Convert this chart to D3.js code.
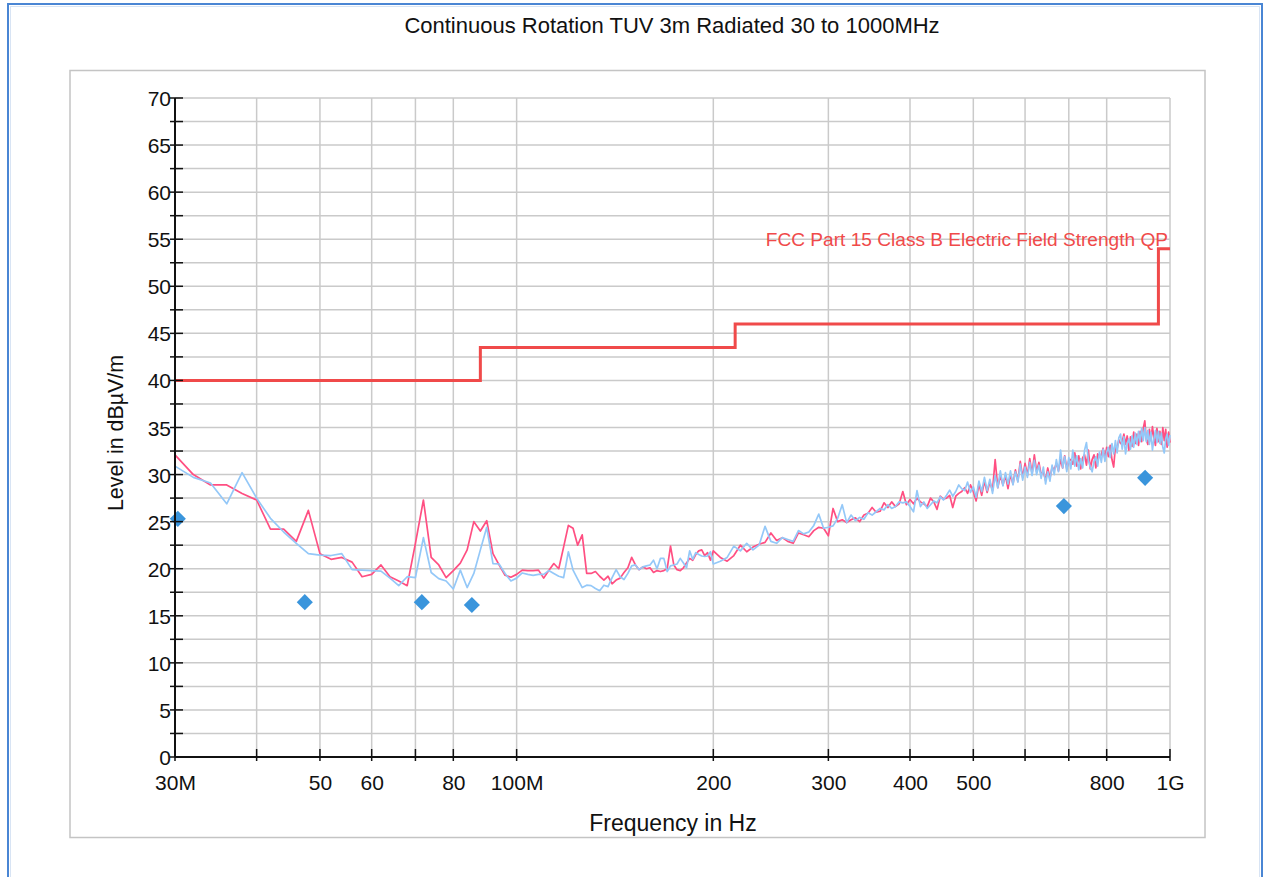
<!DOCTYPE html>
<html>
<head>
<meta charset="utf-8">
<script src="https://cdn.jsdelivr.net/npm/d3@7/dist/d3.min.js"></script>
<style>
  html, body { margin: 0; padding: 0; background: #ffffff; }
  svg { display: block; }
  text { font-family: "Liberation Sans", Arial, Helvetica, sans-serif; }
</style>
</head>
<body>
<svg id="chart" width="1265" height="877"></svg>
<script>
// ---------------- DATA ----------------
const chartTitle = "Continuous Rotation TUV 3m Radiated 30 to 1000MHz";
const xTitle = "Frequency in Hz";
const yTitle = "Level in dBµV/m";
const limitName = "FCC Part 15 Class B Electric Field Strength QP";

// sweep grid: low band 30..200 MHz every 2 MHz, high band 205..1000 MHz every 5 MHz
const lowStartMHz = 30, lowStepMHz = 2;
const highStartMHz = 205, highStepMHz = 5;

// red (pink) trace, dBµV/m
const redLow = [
  32.1, 30.0, 28.9, 28.9, 28.0, 27.3, 24.2, 24.2, 22.9, 26.2,
  21.6, 21.0, 21.2, 20.7, 19.15, 19.4, 20.4, 19.15, 18.7, 18.2,
  22.7, 27.3, 21.2, 20.4, 19.05, 19.8, 20.6, 22.0, 25.0, 24.0,
  25.1, 21.6, 20.4, 19.3, 19.1, 19.4, 19.85, 19.8, 19.8, 19.85,
  19.0, 19.8, 20.55, 20.0, 22.3, 24.6, 24.3, 22.5, 23.6, 19.5,
  19.5, 19.7, 19.2, 18.8, 19.2, 18.4, 18.8, 19.0, 19.6, 20.1,
  21.2, 20.4, 19.9, 20.2, 20.0, 20.1, 19.6, 19.8, 19.7, 19.8,
  20.0, 22.4, 20.4, 19.9, 19.8, 20.1, 20.6, 21.1, 20.9, 21.5,
  21.9, 22.0, 21.4, 21.7, 20.9, 21.9
];
const redHigh = [
  21.2, 20.8, 21.4, 22.5, 21.8, 22.3, 22.6, 22.8, 23.8, 23.0,
  23.3, 22.9, 22.7, 23.8, 23.6, 23.4, 24.05, 24.4, 24.3, 23.5,
  26.4, 25.0, 25.2, 24.9, 25.2, 25.4, 25.0, 25.7, 25.9, 26.5,
  26.0, 26.1, 27.0, 26.5, 27.1, 26.6, 26.9, 28.2, 26.8, 27.35,
  26.9, 27.5, 27.1, 26.9, 26.6, 27.5, 27.1, 26.3, 27.7, 27.4,
  27.5, 27.8, 26.5, 27.7, 28.0, 28.2, 28.6, 28.0, 28.9, 28.2,
  27.2, 29.0, 27.8, 29.3, 28.1, 29.2, 28.3, 31.6, 28.6, 29.9,
  28.9, 29.9, 28.5, 30.0, 29.0, 30.5, 29.3, 31.4, 29.7, 31.2,
  29.9, 31.7, 30.1, 32.1, 30.3, 31.3, 30.0, 30.3, 29.4, 30.7,
  29.6, 30.8, 30.5, 31.2, 30.4, 31.6, 30.7, 32.0, 30.6, 31.5,
  31.6, 31.1, 32.3, 30.9, 32.0, 30.6, 31.8, 32.1, 31.0, 32.6,
  30.6, 31.6, 32.1, 30.7, 32.2, 31.9, 32.1, 32.8, 31.7, 32.9,
  31.9, 33.1, 31.6, 30.8, 33.0, 32.8, 33.7, 33.3, 33.5, 34.3,
  33.2, 34.1, 32.6, 34.0, 33.0, 34.5, 33.3, 34.3, 33.1, 34.6,
  33.5, 34.9, 35.7, 33.7, 33.2, 34.8, 33.6, 35.1, 33.9, 33.1,
  34.9, 33.5, 34.6, 33.2, 35.0, 33.6, 34.8, 32.9, 34.5, 33.4
];

// light blue trace, dBµV/m
const blueLow = [
  30.9, 29.7, 29.1, 26.9, 30.2, 27.5, 25.35, 23.9, 22.7, 21.6,
  21.45, 21.4, 21.6, 19.9, 19.85, 19.8, 19.75, 19.0, 18.2, 19.15,
  19.05, 23.3, 19.6, 18.95, 18.7, 17.85, 19.85, 18.0, 19.5, 22.0,
  24.4, 20.55, 20.5, 19.5, 18.7, 19.0, 19.55, 19.4, 19.3, 19.4,
  19.4, 19.8, 19.5, 19.2, 19.05, 21.8, 19.85, 18.9, 18.0, 18.25,
  18.2, 17.9, 17.65, 18.25, 18.1, 19.05, 19.9, 19.15, 18.85, 19.5,
  20.3, 20.4, 19.9, 20.2, 20.3, 20.4, 20.9, 20.0, 21.1, 21.1,
  19.7, 20.3, 20.4, 20.5, 21.1, 20.6, 20.1, 21.9, 21.0, 21.7,
  21.5, 21.35, 21.3, 21.35, 21.8, 20.5
];
const blueHigh = [
  20.8, 21.2, 22.4, 21.9, 22.7, 22.0, 22.5, 24.5, 22.9, 22.7,
  23.3, 23.1, 22.9, 24.05, 23.7, 23.9, 24.6, 25.8, 24.3, 24.4,
  24.55, 25.35, 26.8, 24.9, 25.7, 25.1, 25.45, 25.25, 25.95, 25.7,
  26.05, 26.4, 26.25, 26.8, 26.4, 26.6, 27.1, 27.0, 27.1, 26.6,
  26.05, 28.3, 26.6, 27.1, 26.4, 26.8, 27.2, 27.0, 27.65, 27.3,
  27.8, 28.35, 27.7, 28.2, 28.9, 28.5, 28.3, 29.2, 28.1, 28.7,
  27.6, 29.3, 28.2, 29.7, 28.3, 29.5, 28.0, 29.9, 28.6, 30.4,
  28.8, 30.2, 29.0, 30.4, 28.9, 30.3, 29.2, 31.1, 29.4, 30.8,
  29.7, 31.3, 29.9, 31.5, 30.0, 31.0, 29.6, 30.8, 29.0, 30.3,
  29.3, 31.0, 30.0, 31.6, 30.3, 32.6, 30.7, 31.9, 30.3, 31.8,
  30.6, 32.6, 30.9, 32.0, 30.5, 31.7, 30.7, 32.6, 33.4, 31.5,
  30.8, 30.3, 31.4, 31.9, 30.9, 32.4, 31.3, 32.7, 31.4, 32.4,
  32.9, 31.8, 33.3, 32.2, 33.6, 32.3, 33.9, 34.3, 32.7, 34.0,
  32.2, 33.3, 33.8, 32.7, 34.1, 32.9, 34.4, 33.2, 34.6, 33.5,
  34.9, 33.6, 35.0, 33.5, 34.7, 33.2, 34.5, 32.6, 33.8, 34.7,
  33.4, 34.6, 33.3, 34.4, 32.9, 32.3, 33.8, 34.3, 33.1, 34.2
];

// final measurement points (diamonds)
const markerFreqMHz = [30.3, 47.4, 71.6, 85.4, 688, 916];
const markerLevel   = [25.3, 16.45, 16.45, 16.15, 26.65, 29.65];

// limit line (step after)
const limitFreqMHz = [30, 88, 216, 960, 1000];
const limitLevel   = [40, 43.5, 46, 54, 54];

// axes
const xGridMHz = [30, 40, 50, 60, 70, 80, 100, 200, 300, 400, 500, 600, 700, 800, 1000];
const xTickLabels = {30: "30M", 50: "50", 60: "60", 80: "80", 100: "100M", 200: "200",
                     300: "300", 400: "400", 500: "500", 800: "800", 1000: "1G"};
const yMajorTicks = [0, 5, 10, 15, 20, 25, 30, 35, 40, 45, 50, 55, 60, 65, 70];
const yMinorTicks = [2.5, 7.5, 12.5, 17.5, 22.5, 27.5, 32.5, 37.5, 42.5, 47.5, 52.5, 57.5, 62.5, 67.5];

// ---------------- BUILD SERIES ----------------
function buildSeries(low, high) {
  const pts = [];
  low.forEach((v, i) => pts.push({f: (lowStartMHz + i * lowStepMHz) * 1e6, v}));
  high.forEach((v, i) => pts.push({f: (highStartMHz + i * highStepMHz) * 1e6, v}));
  return pts;
}
const redSeries = buildSeries(redLow, redHigh);
const blueSeries = buildSeries(blueLow, blueHigh);

// ---------------- DRAW ----------------
const svg = d3.select("#chart");
const plotL = 175, plotR = 1170, plotT = 98, plotB = 757;

const x = d3.scaleLog().domain([30e6, 1e9]).range([plotL, plotR]);
const y = d3.scaleLinear().domain([0, 70]).range([plotB, plotT]);

// page frame
svg.append("rect").attr("x", 8).attr("y", 4).attr("width", 1254).attr("height", 900)
  .attr("fill", "none").attr("stroke", "#4a86d4").attr("stroke-width", 2);
svg.append("rect").attr("x", 10.5).attr("y", 6.5).attr("width", 1249).attr("height", 900)
  .attr("fill", "none").attr("stroke", "#d8e4f4").attr("stroke-width", 1);

// title
svg.append("text").attr("x", 672).attr("y", 33).attr("text-anchor", "middle")
  .attr("font-size", 22).attr("fill", "#111").text(chartTitle);

// panel
svg.append("rect").attr("x", 70).attr("y", 70.5).attr("width", 1135).attr("height", 767)
  .attr("fill", "#fff").attr("stroke", "#c4c4c4").attr("stroke-width", 1.5);

// grid
const grid = svg.append("g");
grid.selectAll("line.h").data(yMajorTicks.concat(yMinorTicks).filter(d => d > 0)).join("line")
  .attr("x1", plotL).attr("x2", plotR).attr("y1", d => y(d)).attr("y2", d => y(d))
  .attr("stroke", "#cacaca").attr("stroke-width", 1.5);
grid.selectAll("line.v").data(xGridMHz.filter(d => d > 30)).join("line")
  .attr("x1", d => x(d * 1e6)).attr("x2", d => x(d * 1e6)).attr("y1", plotT).attr("y2", plotB)
  .attr("stroke", "#cacaca").attr("stroke-width", 1.5);

// limit line
const limitPts = limitFreqMHz.map((f, i) => ({f: f * 1e6, v: limitLevel[i]}));
svg.append("path").datum(limitPts)
  .attr("d", d3.line().x(d => x(d.f)).y(d => y(d.v)).curve(d3.curveStepAfter))
  .attr("fill", "none").attr("stroke", "#f04a4a").attr("stroke-width", 3);
svg.append("text").attr("x", plotR - 2).attr("y", 246).attr("text-anchor", "end")
  .attr("font-size", 19.1).attr("fill", "#f04a4a").text(limitName);

// traces
const line = d3.line().x(d => x(d.f)).y(d => y(d.v));
svg.append("path").datum(redSeries).attr("d", line)
  .attr("fill", "none").attr("stroke", "#ff4f82").attr("stroke-width", 1.7).attr("stroke-linejoin", "round");
svg.append("path").datum(blueSeries).attr("d", line)
  .attr("fill", "none").attr("stroke", "#94c8f8").attr("stroke-width", 1.7).attr("stroke-linejoin", "round");

// markers
const diamond = d3.symbol().type(d3.symbolSquare).size(130);
svg.append("g").selectAll("path").data(markerFreqMHz.map((f, i) => ({f: f * 1e6, v: markerLevel[i]})))
  .join("path").attr("d", diamond)
  .attr("transform", d => `translate(${x(d.f)},${y(d.v)}) rotate(45)`)
  .attr("fill", "#3a95dc");

// y axis
const yAxis = d3.axisLeft(y).tickValues(yMajorTicks).tickSize(0).tickPadding(0)
  .tickFormat(d => String(d));
const gy = svg.append("g").attr("transform", `translate(${plotL},0)`).call(yAxis);
gy.select(".domain").remove();
gy.selectAll(".tick text").attr("x", -4).attr("dy", "0.36em").attr("font-size", 21)
  .attr("fill", "#111").attr("font-family", "Liberation Sans, Arial, sans-serif");
svg.append("line").attr("x1", plotL).attr("x2", plotL).attr("y1", plotT).attr("y2", plotB)
  .attr("stroke", "#111").attr("stroke-width", 2);
svg.append("g").selectAll("line").data(yMajorTicks.concat(yMinorTicks)).join("line")
  .attr("x1", plotL - 5).attr("x2", plotL + 8).attr("y1", d => y(d)).attr("y2", d => y(d))
  .attr("stroke", "#111").attr("stroke-width", 1.5);

// x axis
const xAxis = d3.axisBottom(x).tickValues(xGridMHz.map(d => d * 1e6)).tickSize(0).tickPadding(0)
  .tickFormat(d => xTickLabels[Math.round(d / 1e6)] || "");
const gx = svg.append("g").attr("transform", `translate(0,${plotB})`).call(xAxis);
gx.select(".domain").remove();
gx.selectAll(".tick text").attr("y", 33).attr("dy", 0).attr("font-size", 21)
  .attr("fill", "#111").attr("font-family", "Liberation Sans, Arial, sans-serif");
svg.append("line").attr("x1", plotL).attr("x2", plotR).attr("y1", plotB).attr("y2", plotB)
  .attr("stroke", "#111").attr("stroke-width", 2);
svg.append("g").selectAll("line").data(xGridMHz).join("line")
  .attr("x1", d => x(d * 1e6)).attr("x2", d => x(d * 1e6)).attr("y1", plotB - 8).attr("y2", plotB + 4)
  .attr("stroke", "#111").attr("stroke-width", 1.5);

// axis titles
svg.append("text").attr("x", 673).attr("y", 831).attr("text-anchor", "middle")
  .attr("font-size", 23).attr("fill", "#111").text(xTitle);
svg.append("text").attr("transform", "translate(123,433) rotate(-90)").attr("text-anchor", "middle")
  .attr("font-size", 21.4).attr("fill", "#111").text(yTitle);
</script>
</body>
</html>
